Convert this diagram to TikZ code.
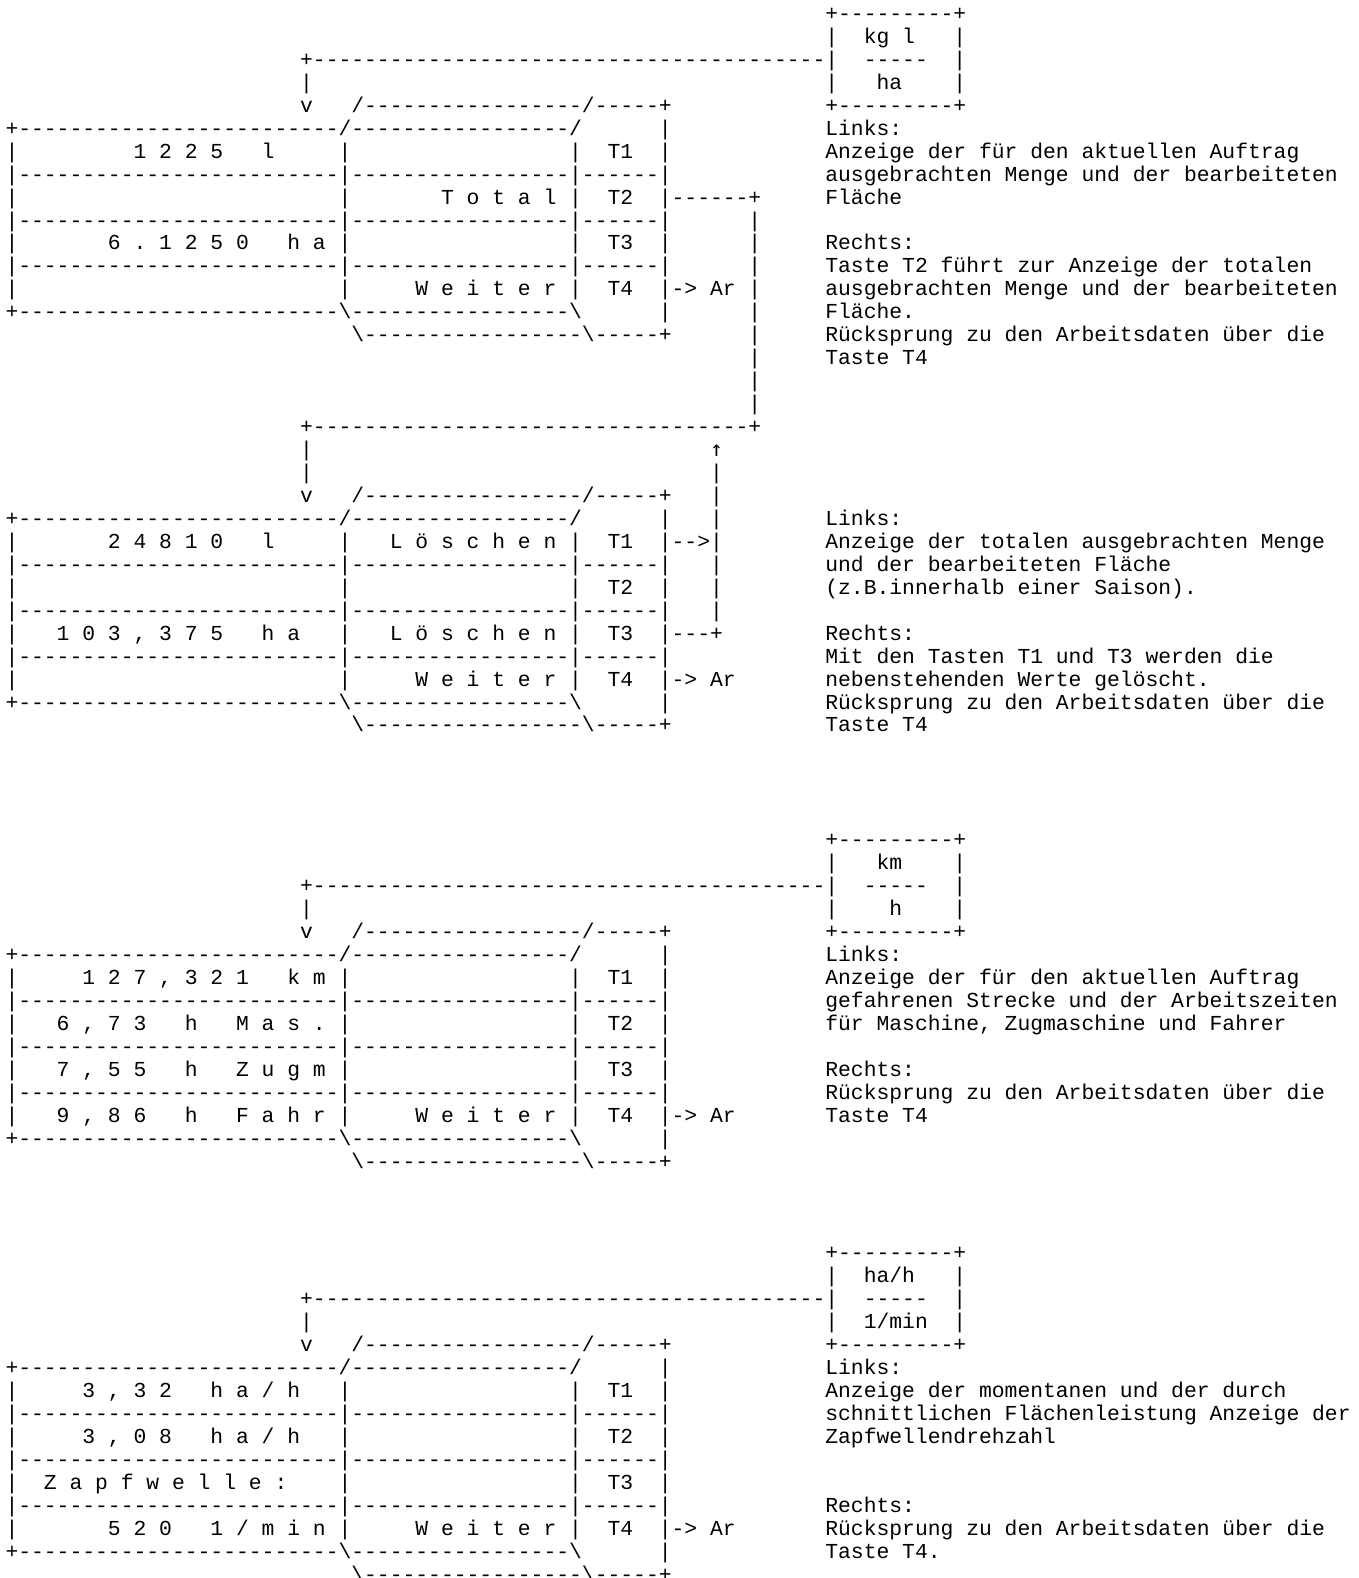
\documentclass[tikz,border=0pt]{standalone}
\usepackage{fontspec}
\setmonofont{Liberation Mono}
\newfontfamily\arrowfont{DejaVu Sans Mono}
\frenchspacing
\ExplSyntaxOn
\cs_new:Npn \mydash #1 {\prg_replicate:nn{#1}{-}}
\ExplSyntaxOff
\newcommand\bs{\textbackslash}
\tikzset{txt/.style={anchor=base west,inner sep=0pt,outer sep=0pt,text=black,
  font=\ttfamily\fontsize{21.35pt}{22.95pt}\selectfont}}
\newcommand\seg[3]{\node[txt] (s#1x#2) at ({5.5pt+#2*12.81pt},{-20.5pt-#1*22.95pt}) {#3};}
\newcommand\sepr[1]{\seg{#1}{0}{|\mydash{25}|\mydash{17}|\mydash{6}|}}
\newcommand\topa[1]{\seg{#1}{23}{v}\seg{#1}{27}{/\mydash{17}/\mydash{5}+}}
\newcommand\topb[1]{\seg{#1}{0}{+\mydash{25}/\mydash{17}/}\seg{#1}{51}{|}}
\newcommand\bota[1]{\seg{#1}{0}{+\mydash{25}\bs\mydash{17}\bs}\seg{#1}{51}{|}}
\newcommand\botb[1]{\seg{#1}{27}{\bs\mydash{17}\bs\mydash{5}+}}
\newcommand\cells[2]{\seg{#1}{0}{|}\seg{#1}{26}{|}\seg{#1}{44}{|}\seg{#1}{47}{#2}}
\begin{document}
\begin{tikzpicture}
\fill[white] (0,0) rectangle (1358pt,-1578pt);
\useasboundingbox (0,0) rectangle (1358pt,-1578pt);
% ---------- panel 1 ----------
\seg{0}{64}{+\mydash{9}+}
\seg{1}{64}{|}\seg{1}{67}{kg l}\seg{1}{74}{|}
\seg{2}{23}{+\mydash{40}|}\seg{2}{67}{\mydash{5}}\seg{2}{74}{|}
\seg{3}{23}{|}\seg{3}{64}{|}\seg{3}{68}{ha}\seg{3}{74}{|}
\topa{4}\seg{4}{64}{+\mydash{9}+}
\topb{5}\seg{5}{64}{Links:}
\cells{6}{T1}\seg{6}{10}{1 2 2 5}\seg{6}{20}{l}\seg{6}{51}{|}
\seg{6}{64}{Anzeige der für den aktuellen Auftrag}
\sepr{7}\seg{7}{64}{ausgebrachten Menge und der bearbeiteten}
\cells{8}{T2}\seg{8}{34}{T o t a l}\seg{8}{51}{|\mydash{6}+}\seg{8}{64}{Fläche}
\sepr{9}\seg{9}{58}{|}
\cells{10}{T3}\seg{10}{8}{6 . 1 2 5 0}\seg{10}{22}{h a}\seg{10}{51}{|}\seg{10}{58}{|}
\seg{10}{64}{Rechts:}
\sepr{11}\seg{11}{58}{|}\seg{11}{64}{Taste T2 führt zur Anzeige der totalen}
\cells{12}{T4}\seg{12}{32}{W e i t e r}\seg{12}{51}{|-> Ar}\seg{12}{58}{|}
\seg{12}{64}{ausgebrachten Menge und der bearbeiteten}
\bota{13}\seg{13}{58}{|}\seg{13}{64}{Fläche.}
\botb{14}\seg{14}{58}{|}\seg{14}{64}{Rücksprung zu den Arbeitsdaten über die}
\seg{15}{58}{|}\seg{15}{64}{Taste T4}
\seg{16}{58}{|}
\seg{17}{58}{|}
\seg{18}{23}{+\mydash{34}+}
% ---------- panel 2 ----------
\seg{19}{23}{|}\seg{19}{55}{\arrowfont ↑}
\seg{20}{23}{|}\seg{20}{55}{|}
\topa{21}\seg{21}{55}{|}
\topb{22}\seg{22}{55}{|}\seg{22}{64}{Links:}
\cells{23}{T1}\seg{23}{8}{2 4 8 1 0}\seg{23}{20}{l}\seg{23}{30}{L ö s c h e n}\seg{23}{51}{|-->|}
\seg{23}{64}{Anzeige der totalen ausgebrachten Menge}
\sepr{24}\seg{24}{55}{|}\seg{24}{64}{und der bearbeiteten Fläche}
\cells{25}{T2}\seg{25}{51}{|}\seg{25}{55}{|}\seg{25}{64}{(z.B.innerhalb einer Saison).}
\sepr{26}\seg{26}{55}{|}
\cells{27}{T3}\seg{27}{4}{1 0 3 , 3 7 5}\seg{27}{20}{h a}\seg{27}{30}{L ö s c h e n}\seg{27}{51}{|---+}
\seg{27}{64}{Rechts:}
\sepr{28}\seg{28}{64}{Mit den Tasten T1 und T3 werden die}
\cells{29}{T4}\seg{29}{32}{W e i t e r}\seg{29}{51}{|-> Ar}\seg{29}{64}{nebenstehenden Werte gelöscht.}
\bota{30}\seg{30}{64}{Rücksprung zu den Arbeitsdaten über die}
\botb{31}\seg{31}{64}{Taste T4}
% ---------- panel 3 ----------
\seg{36}{64}{+\mydash{9}+}
\seg{37}{64}{|}\seg{37}{68}{km}\seg{37}{74}{|}
\seg{38}{23}{+\mydash{40}|}\seg{38}{67}{\mydash{5}}\seg{38}{74}{|}
\seg{39}{23}{|}\seg{39}{64}{|}\seg{39}{69}{h}\seg{39}{74}{|}
\topa{40}\seg{40}{64}{+\mydash{9}+}
\topb{41}\seg{41}{64}{Links:}
\cells{42}{T1}\seg{42}{6}{1 2 7 , 3 2 1}\seg{42}{22}{k m}\seg{42}{51}{|}
\seg{42}{64}{Anzeige der für den aktuellen Auftrag}
\sepr{43}\seg{43}{64}{gefahrenen Strecke und der Arbeitszeiten}
\cells{44}{T2}\seg{44}{4}{6 , 7 3}\seg{44}{14}{h}\seg{44}{18}{M a s .}\seg{44}{51}{|}
\seg{44}{64}{für Maschine, Zugmaschine und Fahrer}
\sepr{45}
\cells{46}{T3}\seg{46}{4}{7 , 5 5}\seg{46}{14}{h}\seg{46}{18}{Z u g m}\seg{46}{51}{|}
\seg{46}{64}{Rechts:}
\sepr{47}\seg{47}{64}{Rücksprung zu den Arbeitsdaten über die}
\cells{48}{T4}\seg{48}{4}{9 , 8 6}\seg{48}{14}{h}\seg{48}{18}{F a h r}\seg{48}{32}{W e i t e r}\seg{48}{51}{|-> Ar}
\seg{48}{64}{Taste T4}
\bota{49}
\botb{50}
% ---------- panel 4 ----------
\seg{54}{64}{+\mydash{9}+}
\seg{55}{64}{|}\seg{55}{67}{ha/h}\seg{55}{74}{|}
\seg{56}{23}{+\mydash{40}|}\seg{56}{67}{\mydash{5}}\seg{56}{74}{|}
\seg{57}{23}{|}\seg{57}{64}{|}\seg{57}{67}{1/min}\seg{57}{74}{|}
\topa{58}\seg{58}{64}{+\mydash{9}+}
\topb{59}\seg{59}{64}{Links:}
\cells{60}{T1}\seg{60}{6}{3 , 3 2}\seg{60}{16}{h a / h}\seg{60}{51}{|}
\seg{60}{64}{Anzeige der momentanen und der durch}
\sepr{61}\seg{61}{64}{schnittlichen Flächenleistung Anzeige der}
\cells{62}{T2}\seg{62}{6}{3 , 0 8}\seg{62}{16}{h a / h}\seg{62}{51}{|}
\seg{62}{64}{Zapfwellendrehzahl}
\sepr{63}
\cells{64}{T3}\seg{64}{3}{Z a p f w e l l e :}\seg{64}{51}{|}
\sepr{65}\seg{65}{64}{Rechts:}
\cells{66}{T4}\seg{66}{8}{5 2 0}\seg{66}{16}{1 / m i n}\seg{66}{32}{W e i t e r}\seg{66}{51}{|-> Ar}
\seg{66}{64}{Rücksprung zu den Arbeitsdaten über die}
\bota{67}\seg{67}{64}{Taste T4.}
\botb{68}
\end{tikzpicture}
\end{document}
